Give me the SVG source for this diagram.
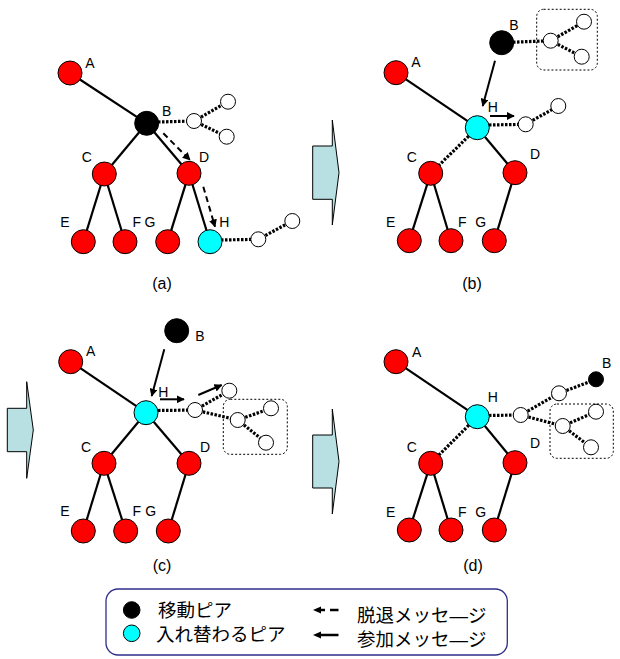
<svg xmlns="http://www.w3.org/2000/svg" width="620" height="659" viewBox="0 0 620 659">
  <defs>
    <style>
      .edge { stroke: #000; stroke-width: 2.2; fill: none; }
      .dot { stroke: #000; stroke-width: 3.2; stroke-dasharray: 2.5 1.5; fill: none; }
      .msg { stroke: #000; stroke-width: 2; fill: none; }
      .leave { stroke: #000; stroke-width: 2; stroke-dasharray: 6 4; fill: none; }
      .box { stroke: #000; stroke-width: 1; stroke-dasharray: 2 2; fill: none; }
      .red { fill: #ff0000; stroke: #000; stroke-width: 1; }
      .cyan { fill: #00ffff; stroke: #000; stroke-width: 1; }
      .blk { fill: #000; stroke: #000; stroke-width: 1; }
      .wht { fill: #fff; stroke: #000; stroke-width: 1; }
      .lbl { font-family: "Liberation Sans", Arial, sans-serif; font-size: 14px; fill: #000; text-anchor: middle; }
      .cap { font-family: "Liberation Sans", Arial, sans-serif; font-size: 16px; fill: #000; text-anchor: middle; }
      .jp { font-family: "Liberation Sans", "Noto Sans CJK JP", sans-serif; font-size: 18.5px; fill: #000; }
      .step { fill: #b8dfe2; stroke: #000; stroke-width: 1; }
    </style>
    <marker id="head" viewBox="0 0 10 10" refX="9" refY="5" markerWidth="4" markerHeight="4" orient="auto" markerUnits="strokeWidth">
      <path d="M0,0 L10,5 L0,10 z" fill="#000"/>
    </marker>
  </defs>

  <!-- step arrows between stages -->
  <g id="step-ab"><polygon class="step" points="312.7,146 332.3,146 332.3,120 339,172.7 332.3,225 332.3,199.3 312.7,199.3"/></g>
  <g id="step-bc"><polygon class="step" points="7.3,408.3 26.7,408.3 26.7,381.7 33.3,430 26.7,478.3 26.7,451.7 7.3,451.7"/></g>
  <g id="step-cd"><polygon class="step" points="312.7,435 332.3,435 332.3,409 339,461.5 332.3,514 332.3,488 312.7,488"/></g>

  <!-- connectors -->
  <g id="connectors">
    <!-- (a) -->
    <line class="edge" x1="70" y1="73" x2="146.7" y2="123.3"/>
    <line class="edge" x1="146.7" y1="123.3" x2="104.3" y2="174"/>
    <line class="edge" x1="146.7" y1="123.3" x2="189" y2="173.3"/>
    <line class="edge" x1="104.3" y1="174" x2="83.3" y2="241.7"/>
    <line class="edge" x1="104.3" y1="174" x2="125" y2="241.7"/>
    <line class="edge" x1="189" y1="173.3" x2="167.7" y2="241.7"/>
    <line class="edge" x1="189" y1="173.3" x2="210" y2="241.7"/>
    <line class="dot" x1="158" y1="122" x2="194" y2="121"/>
    <line class="dot" x1="194" y1="121" x2="228" y2="101.7"/>
    <line class="dot" x1="194" y1="121" x2="226.7" y2="136.7"/>
    <line class="dot" x1="221" y1="240" x2="258.3" y2="239.3"/>
    <line class="dot" x1="258.3" y1="239.3" x2="292.3" y2="221"/>
    <line class="leave" x1="163.3" y1="133.3" x2="190" y2="160" marker-end="url(#head)"/>
    <line class="leave" x1="203.3" y1="186.7" x2="215" y2="226.7" marker-end="url(#head)"/>

    <!-- (b) -->
    <line class="dot" x1="513" y1="42.2" x2="550.7" y2="40.7"/>
    <line class="dot" x1="550.7" y1="40.7" x2="584" y2="21.7"/>
    <line class="dot" x1="550.7" y1="40.7" x2="581.7" y2="56.7"/>
    <line class="edge" x1="396" y1="72.7" x2="477.3" y2="127.7"/>
    <line class="dot" x1="477.3" y1="127.7" x2="430.7" y2="173.3"/>
    <line class="edge" x1="477.3" y1="127.7" x2="515" y2="172.7"/>
    <line class="edge" x1="430.7" y1="173.3" x2="409.3" y2="240.7"/>
    <line class="edge" x1="430.7" y1="173.3" x2="451" y2="240.7"/>
    <line class="edge" x1="515" y1="172.7" x2="494.3" y2="240.7"/>
    <line class="dot" x1="489" y1="125" x2="525.7" y2="124.3"/>
    <line class="dot" x1="525.7" y1="124.3" x2="558.3" y2="106"/>
    <line class="msg" x1="495" y1="60.7" x2="482.7" y2="106" marker-end="url(#head)"/>
    <line class="msg" x1="490" y1="116" x2="514" y2="116" marker-end="url(#head)"/>

    <!-- (c) -->
    <line class="edge" x1="70.7" y1="361.7" x2="146" y2="412.7"/>
    <line class="edge" x1="146" y1="412.7" x2="104" y2="463.3"/>
    <line class="edge" x1="146" y1="412.7" x2="189" y2="463.3"/>
    <line class="edge" x1="104" y1="463.3" x2="83.3" y2="531"/>
    <line class="edge" x1="104" y1="463.3" x2="125.7" y2="531"/>
    <line class="edge" x1="189" y1="463.3" x2="168.3" y2="531"/>
    <line class="dot" x1="158" y1="410.5" x2="195" y2="410"/>
    <line class="dot" x1="195" y1="410" x2="229.3" y2="390.7"/>
    <line class="dot" x1="195" y1="410" x2="237.7" y2="420"/>
    <line class="dot" x1="237.7" y1="420" x2="271" y2="408.3"/>
    <line class="dot" x1="237.7" y1="420" x2="266" y2="442.7"/>
    <line class="msg" x1="164.3" y1="349.3" x2="151.7" y2="396" marker-end="url(#head)"/>
    <line class="msg" x1="160" y1="399.3" x2="184" y2="399.3" marker-end="url(#head)"/>
    <line class="msg" x1="198.3" y1="395" x2="221.7" y2="385" marker-end="url(#head)"/>

    <!-- (d) -->
    <line class="edge" x1="396" y1="361.7" x2="477.3" y2="416.7"/>
    <line class="dot" x1="477.3" y1="416.7" x2="430.7" y2="463.3"/>
    <line class="edge" x1="477.3" y1="416.7" x2="515" y2="462.7"/>
    <line class="edge" x1="430.7" y1="463.3" x2="409.3" y2="530"/>
    <line class="edge" x1="430.7" y1="463.3" x2="451" y2="530"/>
    <line class="edge" x1="515" y1="462.7" x2="494.3" y2="530"/>
    <line class="dot" x1="489" y1="415.5" x2="520.7" y2="415"/>
    <line class="dot" x1="520.7" y1="415" x2="559" y2="393.3"/>
    <line class="dot" x1="559" y1="393.3" x2="596" y2="379.3"/>
    <line class="dot" x1="520.7" y1="415" x2="562.7" y2="426"/>
    <line class="dot" x1="562.7" y1="426" x2="596" y2="411.7"/>
    <line class="dot" x1="562.7" y1="426" x2="591" y2="447.3"/>
  </g>

  <!-- group boxes -->
  <rect class="box" x="536.7" y="9.3" width="60.6" height="60.7" rx="7"/>
  <rect class="box" x="223.3" y="399.3" width="64" height="55" rx="7"/>
  <rect class="box" x="550" y="404" width="63.3" height="54.3" rx="7"/>

  <!-- stage (a) -->
  <g id="a-A"><circle class="red" cx="70" cy="73" r="12"/><text class="lbl" x="90" y="67.7">A</text></g>
  <g id="a-B"><circle class="blk" cx="146.7" cy="123.3" r="12"/><text class="lbl" x="166.7" y="116">B</text></g>
  <g id="a-C"><circle class="red" cx="104.3" cy="174" r="12"/><text class="lbl" x="86.7" y="162">C</text></g>
  <g id="a-D"><circle class="red" cx="189" cy="173.3" r="12"/><text class="lbl" x="204" y="162">D</text></g>
  <g id="a-E"><circle class="red" cx="83.3" cy="241.7" r="12"/><text class="lbl" x="65" y="226.7">E</text></g>
  <g id="a-F"><circle class="red" cx="125" cy="241.7" r="12"/><text class="lbl" x="136.7" y="226.7">F</text></g>
  <g id="a-G"><circle class="red" cx="167.7" cy="241.7" r="12"/><text class="lbl" x="150" y="226.7">G</text></g>
  <g id="a-H"><circle class="cyan" cx="210" cy="241.7" r="12"/><text class="lbl" x="224.3" y="226.7">H</text></g>
  <g id="a-sub">
    <circle class="wht" cx="194" cy="121" r="7.5"/>
    <circle class="wht" cx="228" cy="101.7" r="7.5"/>
    <circle class="wht" cx="226.7" cy="136.7" r="7.5"/>
    <circle class="wht" cx="258.3" cy="239.3" r="7.5"/>
    <circle class="wht" cx="292.3" cy="221" r="7.5"/>
  </g>
  <text class="cap" x="162" y="289">(a)</text>

  <!-- stage (b) -->
  <g id="b-B"><circle class="blk" cx="501.7" cy="42.7" r="12"/><text class="lbl" x="514" y="30">B</text></g>
  <g id="b-A"><circle class="red" cx="396" cy="72.7" r="12"/><text class="lbl" x="416" y="66.7">A</text></g>
  <g id="b-H"><circle class="cyan" cx="477.3" cy="127.7" r="12"/><text class="lbl" x="492.7" y="112">H</text></g>
  <g id="b-C"><circle class="red" cx="430.7" cy="173.3" r="12"/><text class="lbl" x="411.7" y="161.7">C</text></g>
  <g id="b-D"><circle class="red" cx="515" cy="172.7" r="12"/><text class="lbl" x="535" y="159">D</text></g>
  <g id="b-E"><circle class="red" cx="409.3" cy="240.7" r="12"/><text class="lbl" x="390.7" y="226.7">E</text></g>
  <g id="b-F"><circle class="red" cx="451" cy="240.7" r="12"/><text class="lbl" x="462.3" y="226.7">F</text></g>
  <g id="b-G"><circle class="red" cx="494.3" cy="240.7" r="12"/><text class="lbl" x="480.7" y="226.7">G</text></g>
  <g id="b-sub">
    <circle class="wht" cx="550.7" cy="40.7" r="7.5"/>
    <circle class="wht" cx="584" cy="21.7" r="7.5"/>
    <circle class="wht" cx="581.7" cy="56.7" r="7.5"/>
    <circle class="wht" cx="525.7" cy="124.3" r="7.5"/>
    <circle class="wht" cx="558.3" cy="106" r="7.5"/>
  </g>
  <text class="cap" x="472" y="289">(b)</text>

  <!-- stage (c) -->
  <g id="c-B"><circle class="blk" cx="176.7" cy="330.7" r="12"/><text class="lbl" x="200" y="341">B</text></g>
  <g id="c-A"><circle class="red" cx="70.7" cy="361.7" r="12"/><text class="lbl" x="90.7" y="355.7">A</text></g>
  <g id="c-H"><circle class="cyan" cx="146" cy="412.7" r="12"/><text class="lbl" x="163.3" y="396.7">H</text></g>
  <g id="c-C"><circle class="red" cx="104" cy="463.3" r="12"/><text class="lbl" x="86" y="451.7">C</text></g>
  <g id="c-D"><circle class="red" cx="189" cy="463.3" r="12"/><text class="lbl" x="205" y="451.7">D</text></g>
  <g id="c-E"><circle class="red" cx="83.3" cy="531" r="12"/><text class="lbl" x="65" y="515.7">E</text></g>
  <g id="c-F"><circle class="red" cx="125.7" cy="531" r="12"/><text class="lbl" x="136.7" y="515.7">F</text></g>
  <g id="c-G"><circle class="red" cx="168.3" cy="531" r="12"/><text class="lbl" x="150.7" y="515.7">G</text></g>
  <g id="c-sub">
    <circle class="wht" cx="195" cy="410" r="7.5"/>
    <circle class="wht" cx="229.3" cy="390.7" r="7.5"/>
    <circle class="wht" cx="237.7" cy="420" r="7.5"/>
    <circle class="wht" cx="271" cy="408.3" r="7.5"/>
    <circle class="wht" cx="266" cy="442.7" r="7.5"/>
  </g>
  <text class="cap" x="162" y="571">(c)</text>

  <!-- stage (d) -->
  <g id="d-A"><circle class="red" cx="396" cy="361.7" r="12"/><text class="lbl" x="416.7" y="356.7">A</text></g>
  <g id="d-H"><circle class="cyan" cx="477.3" cy="416.7" r="12"/><text class="lbl" x="492.7" y="401.7">H</text></g>
  <g id="d-C"><circle class="red" cx="430.7" cy="463.3" r="12"/><text class="lbl" x="411.7" y="452.3">C</text></g>
  <g id="d-D"><circle class="red" cx="515" cy="462.7" r="12"/><text class="lbl" x="535" y="448.3">D</text></g>
  <g id="d-E"><circle class="red" cx="409.3" cy="530" r="12"/><text class="lbl" x="390.7" y="516.7">E</text></g>
  <g id="d-F"><circle class="red" cx="451" cy="530" r="12"/><text class="lbl" x="462.3" y="516.7">F</text></g>
  <g id="d-G"><circle class="red" cx="494.3" cy="530" r="12"/><text class="lbl" x="480.7" y="516.7">G</text></g>
  <g id="d-B"><circle class="blk" cx="596" cy="379.3" r="7.5"/><text class="lbl" x="606.7" y="368.3">B</text></g>
  <g id="d-sub">
    <circle class="wht" cx="520.7" cy="415" r="7.5"/>
    <circle class="wht" cx="559" cy="393.3" r="7.5"/>
    <circle class="wht" cx="562.7" cy="426" r="7.5"/>
    <circle class="wht" cx="596" cy="411.7" r="7.5"/>
    <circle class="wht" cx="591" cy="447.3" r="7.5"/>
  </g>
  <text class="cap" x="473" y="571">(d)</text>

  <!-- legend -->
  <g id="legend">
    <rect x="106" y="589" width="401.3" height="66" rx="12" fill="#fff" stroke="#2e2e8a" stroke-width="1.3"/>
    <circle class="blk" cx="131.7" cy="610" r="8.3"/>
    <circle class="cyan" cx="131.7" cy="633.3" r="8.3"/>
    <text class="jp" x="158" y="617">移動ピア</text>
    <text class="jp" x="156" y="641">入れ替わるピア</text>
    <line x1="321" y1="610" x2="325" y2="610" stroke="#000" stroke-width="2.5"/>
    <path d="M313,610 L321,606.5 L321,613.5 z" fill="#000"/>
    <line x1="330" y1="610" x2="338.5" y2="610" stroke="#000" stroke-width="2.5"/>
    <line x1="320" y1="635" x2="338.5" y2="635" stroke="#000" stroke-width="2.5"/>
    <path d="M313,635 L321,631.5 L321,638.5 z" fill="#000"/>
    <text class="jp" x="357" y="622">脱退メッセ—ジ</text>
    <text class="jp" x="357" y="646">参加メッセ—ジ</text>
  </g>
</svg>
